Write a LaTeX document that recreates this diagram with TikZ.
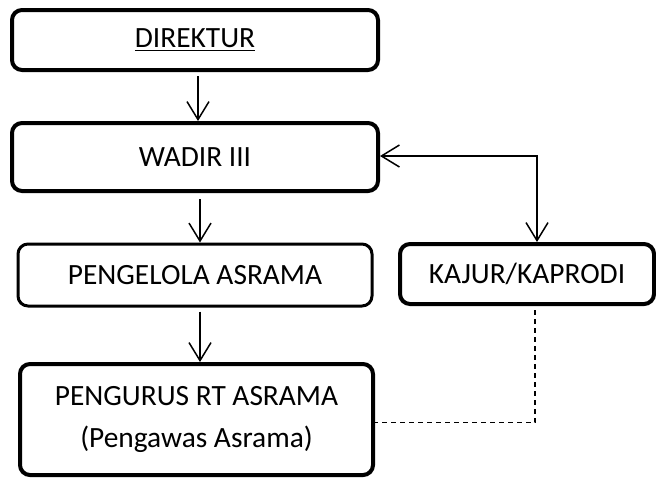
\documentclass[tikz,border=0pt]{standalone}
\usepackage{fontspec}
\setmainfont{Carlito}
\usetikzlibrary{arrows.meta}

\tikzset{
    unit/.style={draw, rounded corners=5pt, line width=2pt, align=center,
        font=\fontsize{14.7}{21}\selectfont},
    thinunit/.style={unit, line width=1.5pt},
    link/.style={line width=0.75pt, -{Straight Barb[length=9pt, width=11pt]}},
    twolink/.style={line width=0.75pt, {Straight Barb[length=9pt, width=11pt]}-{Straight Barb[length=9pt, width=11pt]}},
    guide/.style={line width=0.75pt, dash pattern=on 2.5pt off 2pt}
}

\begin{document}
\begin{tikzpicture}[x=0.5pt, y=-0.5pt]
    % Frame
    \useasboundingbox (0,0) rectangle (656,478);

    % Boxes
    \node[unit, minimum width=183pt, minimum height=30pt] (direktur) at (195,40) {\underline{DIREKTUR}};
    \node[unit, minimum width=183pt, minimum height=34pt] (wadir) at (195,157) {WADIR III};
    \node[thinunit, minimum width=177pt, minimum height=31pt] (pengelola) at (195,275) {PENGELOLA ASRAMA};
    \node[unit, minimum width=127pt, minimum height=30pt] (kajur) at (527,274) {KAJUR/KAPRODI};
    \node[unit, minimum width=176.5pt, minimum height=55.5pt] (pengurus) at (196.5,419.5) {PENGURUS RT ASRAMA\\(Pengawas Asrama)};

    % Lines of command
    \draw[link, shorten <=2pt] ([xshift=1.5pt]direktur.south) -- ([xshift=1.5pt]wadir.north);
    \draw[link, shorten <=3pt] ([xshift=2.5pt]wadir.south) -- ([xshift=2.5pt]pengelola.north);
    \draw[link, shorten <=2pt] ([xshift=2.5pt]pengelola.south) -- ([xshift=2.5pt]pengelola.south |- pengurus.north);
    \draw[twolink] ([yshift=0.5pt]wadir.east) -| ([xshift=5pt]kajur.north);

    % Coordination
    \draw[guide, shorten <=2pt] ([xshift=4pt]kajur.south) |- ([yshift=-1.5pt]pengurus.east);
\end{tikzpicture}
\end{document}
